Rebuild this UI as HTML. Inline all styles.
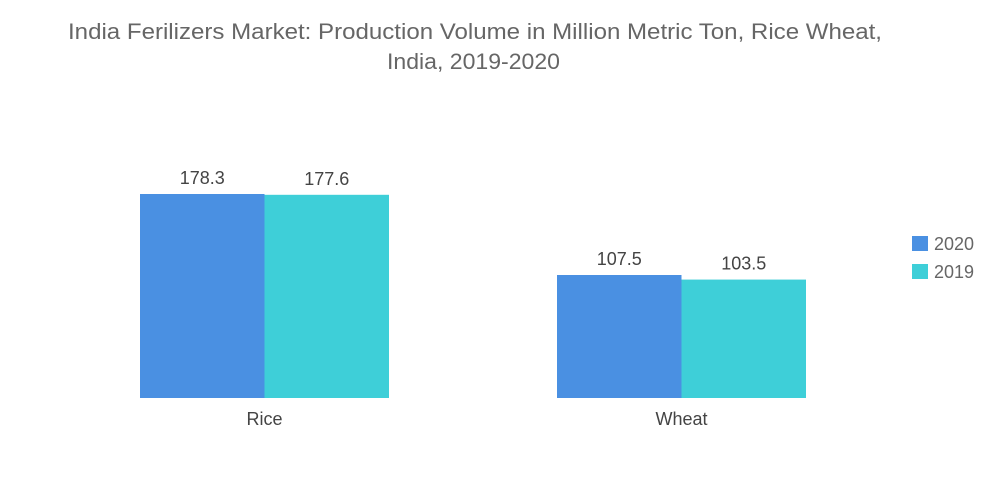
<!DOCTYPE html>
<html><head><meta charset="utf-8"><style>
body{margin:0;background:#fff;}
svg{display:block;font-family:"Liberation Sans",sans-serif;}
</style></head><body>
<svg id="chart" width="1000" height="504">
<text x="68" y="39" textLength="814" lengthAdjust="spacingAndGlyphs" font-size="22" fill="#666">India Ferilizers Market: Production Volume in Million Metric Ton, Rice Wheat,</text>
<text x="387" y="69" textLength="173" lengthAdjust="spacingAndGlyphs" font-size="22" fill="#666">India, 2019-2020</text>
<g id="bars"></g>
<rect x="912" y="236" width="16" height="15" fill="#4a90e2"/>
<text x="934" y="250" font-size="18" fill="#666">2020</text>
<rect x="912" y="264" width="16" height="15" fill="#3ecfd8"/>
<text x="934" y="278" font-size="18" fill="#666">2019</text>
</svg>
<script>
const categories=["Rice","Wheat"];
const series2020=[178.3,107.5];
const series2019=[177.6,103.5];
const seriesNames=["2020","2019"];
const colors=["#4a90e2","#3ecfd8"];
const base=398, scale=204/178.3;
const y=v=>base-v*scale;
const groupLeft=i=>140+i*417;
const bw=124.5;
const g=document.getElementById('bars');
const ns="http://www.w3.org/2000/svg";
[series2020,series2019].forEach((s,si)=>{
  s.forEach((v,i)=>{
    const x=groupLeft(i)+si*bw;
    const r=document.createElementNS(ns,'rect');
    r.setAttribute('x',x);r.setAttribute('y',y(v));
    r.setAttribute('width',bw);r.setAttribute('height',base-y(v));
    r.setAttribute('fill',colors[si]);
    
    
    g.appendChild(r);
    const t=document.createElementNS(ns,'text');
    t.setAttribute('x',x+bw/2);t.setAttribute('y',y(v)-10);
    t.setAttribute('text-anchor','middle');t.setAttribute('font-size','18');t.setAttribute('fill','#444');
    t.textContent=v.toFixed(1);
    
    
    g.appendChild(t);
  });
});
categories.forEach((c,i)=>{
  const t=document.createElementNS(ns,'text');
  t.setAttribute('x',groupLeft(i)+bw);t.setAttribute('y',425);
  t.setAttribute('text-anchor','middle');t.setAttribute('font-size','18');t.setAttribute('fill','#444');
  t.textContent=c;
  
  
  g.appendChild(t);
});
</script>
</body></html>
